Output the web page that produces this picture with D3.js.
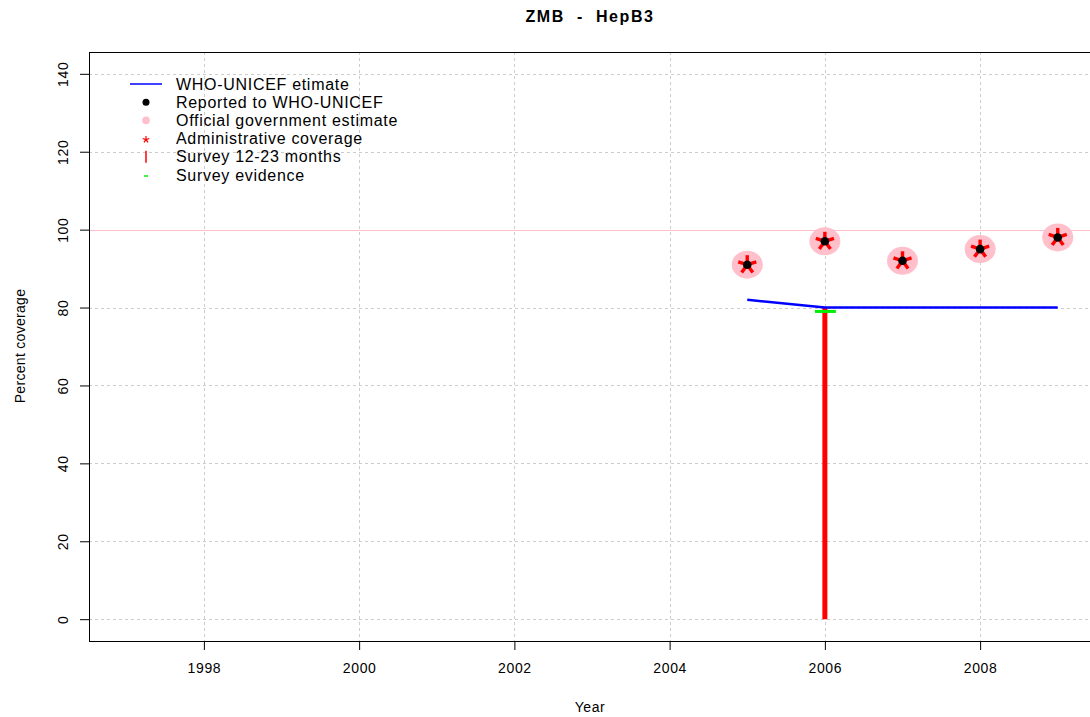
<!DOCTYPE html>
<html><head><meta charset="utf-8">
<script src="https://cdn.jsdelivr.net/npm/d3@7"></script>
<style>html,body{margin:0;padding:0;background:#fff;overflow:hidden}svg{display:block;font-family:"Liberation Sans",Arial,sans-serif}text{white-space:pre}</style>
</head><body>
<svg id="c" width="1090" height="717"></svg>
<script>
// ---- data ----
const years = [2005, 2006, 2007, 2008, 2009];
const whoUnicef = [82, 80, 80, 80, 80];
const reported = [91, 97, 92, 95, 98];
const officialGov = [91, 97, 92, 95, 98];
const adminCoverage = [91, 97, 92, 95, 98];
const surveyYears = [2006];
const survey1223 = [80];
const surveyEvidence = [79];
const xTicks = [1998, 2000, 2002, 2004, 2006, 2008];
const yTicks = [0, 20, 40, 60, 80, 100, 120, 140];
const legendLabels = ["WHO-UNICEF etimate", "Reported to WHO-UNICEF", "Official government estimate",
  "Administrative coverage", "Survey 12-23 months", "Survey evidence"];
const title = "ZMB  -  HepB3";

// ---- layout ----
const svg = d3.select("#c");
const L = 89, R = 1095, T = 52, B = 641;
const x = d3.scaleLinear().domain([1996.52, 2009.48]).range([L, R]);
const y = d3.scaleLinear().domain([-5.6, 145.6]).range([B, T]);

// grid
const grid = svg.append("g").attr("stroke", "#cccccc").attr("stroke-dasharray", "3,3").attr("stroke-width", 1);
xTicks.forEach(t => grid.append("line").attr("x1", Math.round(x(t)) + .5).attr("x2", Math.round(x(t)) + .5).attr("y1", T).attr("y2", B));
yTicks.forEach(t => grid.append("line").attr("x1", L).attr("x2", R).attr("y1", Math.round(y(t)) + .5).attr("y2", Math.round(y(t)) + .5));

// pink reference line at 100
svg.append("line").attr("x1", L).attr("x2", R).attr("y1", Math.round(y(100)) + .5).attr("y2", Math.round(y(100)) + .5)
  .attr("stroke", "#ffc0cb").attr("stroke-width", 1.2);

// axes
const xAxis = d3.axisBottom(x).tickValues(xTicks).tickFormat(d3.format("d")).tickSize(9).tickPadding(13);
const gx = svg.append("g").attr("transform", `translate(0,${B})`).call(xAxis);
gx.select(".domain").remove();
gx.selectAll("text").attr("font-size", 14).attr("fill", "#000").attr("letter-spacing", 0.7)
  .attr("font-family", "Liberation Sans, Arial, sans-serif");
gx.selectAll("line").attr("stroke", "#000");

const yAxis = d3.axisLeft(y).tickValues(yTicks).tickSize(9).tickPadding(0);
const gy = svg.append("g").attr("transform", `translate(${L},0)`).call(yAxis);
gy.select(".domain").remove();
gy.selectAll("line").attr("stroke", "#000");
gy.selectAll("text").attr("font-size", 14).attr("fill", "#000").attr("letter-spacing", 0.7)
  .attr("font-family", "Liberation Sans, Arial, sans-serif")
  .attr("x", null).attr("dy", null).attr("text-anchor", "middle")
  .attr("transform", "translate(-21,0) rotate(-90)");

// plot frame
svg.append("rect").attr("x", L + .5).attr("y", T + .5).attr("width", R - L).attr("height", B - T)
  .attr("fill", "none").attr("stroke", "#000").attr("stroke-width", 1);

// survey 12-23 months (red vertical bars)
surveyYears.forEach((yr, i) => {
  svg.append("line").attr("x1", x(yr)).attr("x2", x(yr)).attr("y1", y(0)).attr("y2", y(survey1223[i]))
    .attr("stroke", "#ff0000").attr("stroke-width", 5);
});
// survey evidence (green dash)
surveyYears.forEach((yr, i) => {
  svg.append("line").attr("x1", x(yr) - 10).attr("x2", x(yr) + 11).attr("y1", y(surveyEvidence[i])).attr("y2", y(surveyEvidence[i]))
    .attr("stroke", "#00ee00").attr("stroke-width", 3);
});

// WHO-UNICEF line
svg.append("path").datum(years.map((d, i) => [d, whoUnicef[i]]))
  .attr("d", d3.line().x(d => x(d[0])).y(d => y(d[1])))
  .attr("fill", "none").attr("stroke", "#0000ff").attr("stroke-width", 2.6);

// official gov (pink circles)
svg.append("g").selectAll("ellipse").data(years).join("ellipse")
  .attr("cx", (d) => x(d)).attr("cy", (d, i) => y(officialGov[i])).attr("rx", 15.5).attr("ry", 14)
  .attr("fill", "#ffc0cb");

// admin coverage (red asterisks)
function star(g, cx, cy, len, w) {
  for (let k = 0; k < 5; k++) {
    const a = (-90 + k * 72) * Math.PI / 180;
    g.append("line").attr("x1", cx).attr("y1", cy).attr("x2", cx + len * Math.cos(a)).attr("y2", cy + len * Math.sin(a))
      .attr("stroke", "#ff0000").attr("stroke-width", w);
  }
}
const ga = svg.append("g");
years.forEach((d, i) => star(ga, x(d), y(adminCoverage[i]), 9.5, 3.4));

// reported (black dots)
svg.append("g").selectAll("circle").data(years).join("circle")
  .attr("cx", d => x(d)).attr("cy", (d, i) => y(reported[i])).attr("r", 4.3).attr("fill", "#000");

// titles
svg.append("text").attr("x", 590).attr("y", 22).attr("text-anchor", "middle").attr("font-size", 16)
  .attr("font-weight", "bold").attr("letter-spacing", 1.6).text(title);
svg.append("text").attr("x", 590).attr("y", 712).attr("text-anchor", "middle").attr("font-size", 14).attr("letter-spacing", 0.6).text("Year");
svg.append("text").attr("transform", "translate(25,346) rotate(-90)").attr("text-anchor", "middle").attr("font-size", 14)
  .attr("letter-spacing", 0.3).text("Percent coverage");

// legend
const lg = svg.append("g");
const lx = 146, ly0 = 84, dy = 18.2;
legendLabels.forEach((t, i) => {
  lg.append("text").attr("x", 176).attr("y", ly0 + i * dy + 5.5).attr("font-size", 16).attr("letter-spacing", 0.7).text(t);
});
lg.append("line").attr("x1", 130).attr("x2", 162).attr("y1", ly0).attr("y2", ly0).attr("stroke", "#0000ff").attr("stroke-width", 1.5);
lg.append("circle").attr("cx", lx).attr("cy", ly0 + dy).attr("r", 3.5).attr("fill", "#000");
lg.append("circle").attr("cx", lx).attr("cy", ly0 + 2 * dy).attr("r", 3.8).attr("fill", "#ffc0cb");
star(lg, lx, ly0 + 3 * dy + 1, 3.5, 1.2);
lg.append("line").attr("x1", lx).attr("x2", lx).attr("y1", ly0 + 4 * dy - 6).attr("y2", ly0 + 4 * dy + 6).attr("stroke", "#ff0000").attr("stroke-width", 1.5);
lg.append("line").attr("x1", lx - 2).attr("x2", lx + 2).attr("y1", ly0 + 5 * dy + 1).attr("y2", ly0 + 5 * dy + 1).attr("stroke", "#00ee00").attr("stroke-width", 1.5);
</script>
</body></html>
